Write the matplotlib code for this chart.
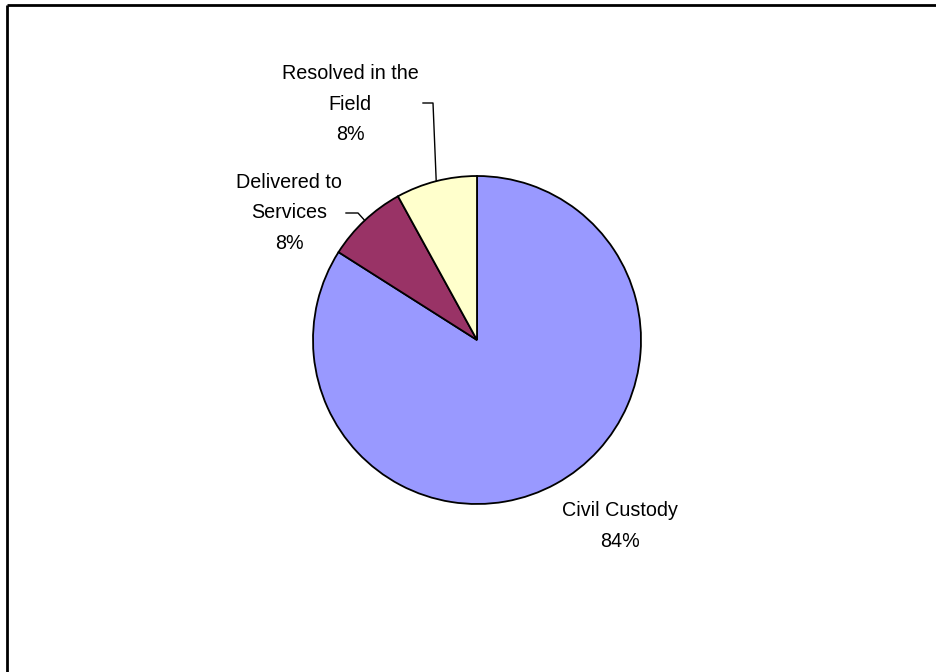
import numpy as np
import matplotlib
matplotlib.use("Agg")
import matplotlib.pyplot as plt

plt.rcParams['font.family'] = ['Liberation Sans', 'DejaVu Sans']

# data
labels = ['Civil Custody', 'Delivered to\nServices', 'Resolved in the\nField']
shares = [84, 8, 8]
colors = ['#9999FF', '#993366', '#FFFFCC']

W, H = 936, 672
fig = plt.figure(figsize=(W / 100, H / 100), dpi=100)
ax = fig.add_axes([0, 0, 1, 1])

cx, cy, r = 477, H - 340, 164
wedges, _ = ax.pie(shares, colors=colors, startangle=90, counterclock=False,
                   center=(cx, cy), radius=r, frame=True,
                   wedgeprops=dict(edgecolor='black', linewidth=1.3))
ax.set_xlim(0, W)
ax.set_ylim(0, H)
ax.axis('off')

# label positions (pixel coords, y from top) and leader elbows
text_pos = [(620, 526), (289, 213), (350, 104)]
leaders = [None, [(346, 213), (358, 213)], [(423, 103), (433, 103)]]

for w, lab, val, (tx, ty), ld in zip(wedges, labels, shares, text_pos, leaders):
    ax.text(tx, H - ty, f'{lab}\n{val}%', ha='center', va='center',
            fontsize=14.2, linespacing=1.75, color='black')
    if ld is not None:
        mid = np.deg2rad((w.theta1 + w.theta2) / 2)
        ex, ey = cx + r * np.cos(mid), cy + r * np.sin(mid)
        xs = [p[0] for p in ld] + [ex]
        ys = [H - p[1] for p in ld] + [ey]
        ax.plot(xs, ys, color='black', linewidth=1)

# chart border (only top and left visible)
ax.plot([7, W], [H - 5, H - 5], color='black', linewidth=2, solid_capstyle='butt')
ax.plot([7, 7], [H - 5, 0], color='black', linewidth=2, solid_capstyle='butt')

fig.savefig('out.png', dpi=100)
